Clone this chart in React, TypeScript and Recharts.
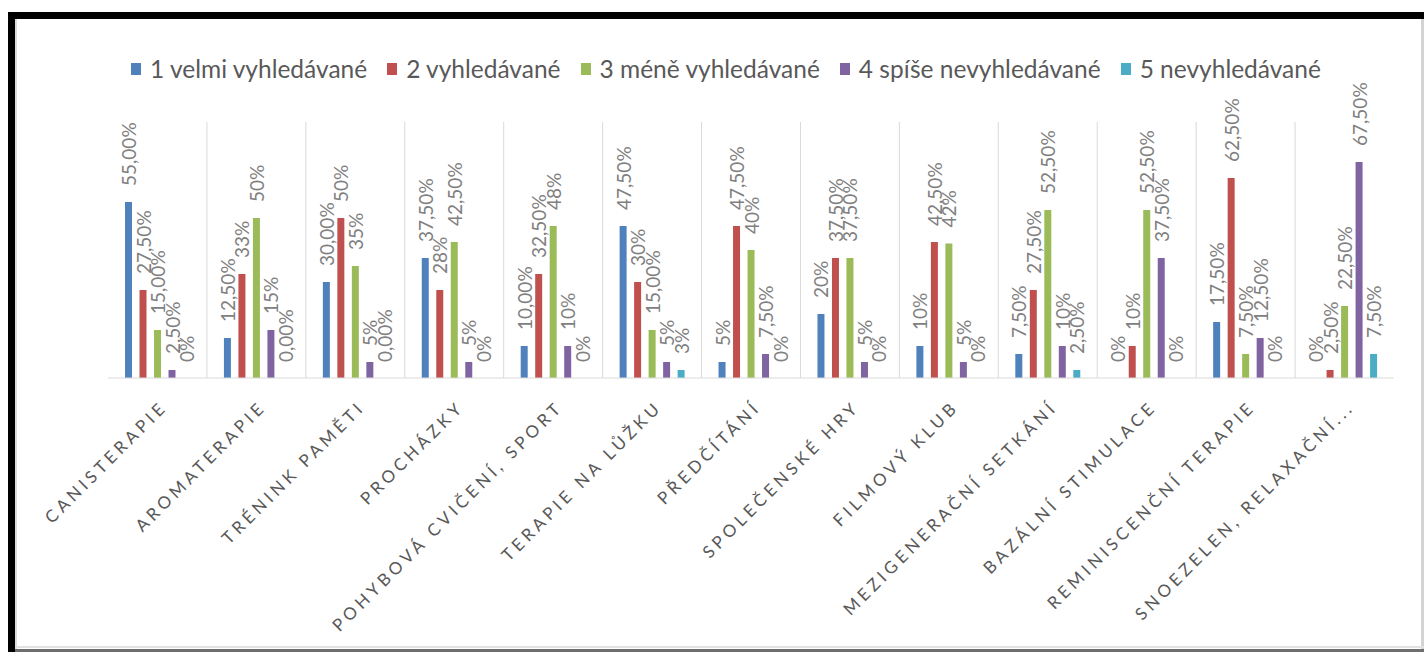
import React from "react";
import { Bar, BarChart, CartesianGrid, LabelList, XAxis, YAxis } from "recharts";

const categories = [
  "CANISTERAPIE",
  "AROMATERAPIE",
  "TRÉNINK PAMĚTI",
  "PROCHÁZKY",
  "POHYBOVÁ CVIČENÍ, SPORT",
  "TERAPIE NA LŮŽKU",
  "PŘEDČÍTÁNÍ",
  "SPOLEČENSKÉ HRY",
  "FILMOVÝ KLUB",
  "MEZIGENERAČNÍ SETKÁNÍ",
  "BAZÁLNÍ STIMULACE",
  "REMINISCENČNÍ TERAPIE",
  "SNOEZELEN, RELAXAČNÍ...",
];

const velmi = [55, 12.5, 30, 37.5, 10, 47.5, 5, 20, 10, 7.5, 0, 17.5, 0];
const vyhl = [27.5, 32.5, 50, 27.5, 32.5, 30, 47.5, 37.5, 42.5, 27.5, 10, 62.5, 2.5];
const mene = [15, 50, 35, 42.5, 47.5, 15, 40, 37.5, 42, 52.5, 52.5, 7.5, 22.5];
const spise = [2.5, 15, 5, 5, 10, 5, 7.5, 5, 5, 10, 37.5, 12.5, 67.5];
const nevyhl = [0, 0, 0, 0, 0, 2.5, 0, 0, 0, 2.5, 0, 0, 7.5];

// data label texts exactly as printed (formats differ per point)
const velmiLabels = ["55,00%", "12,50%", "30,00%", "37,50%", "10,00%", "47,50%", "5%", "20%", "10%", "7,50%", "0%", "17,50%", "0%"];
const vyhlLabels = ["27,50%", "33%", "50%", "28%", "32,50%", "30%", "47,50%", "37,50%", "42,50%", "27,50%", "10%", "62,50%", "2,50%"];
const meneLabels = ["15,00%", "50%", "35%", "42,50%", "48%", "15,00%", "40%", "37,50%", "42%", "52,50%", "52,50%", "7,50%", "22,50%"];
const spiseLabels = ["2,50%", "15%", "5%", "5%", "10%", "5%", "7,50%", "5%", "5%", "10%", "37,50%", "12,50%", "67,50%"];
const nevyhlLabels = ["0%", "0,00%", "0,00%", "0%", "0%", "3%", "0%", "0%", "0%", "2,50%", "0%", "0%", "7,50%"];

const series = [
  { key: "s1", name: "1 velmi vyhledávané", color: "#4F81BD", values: velmi, labels: velmiLabels },
  { key: "s2", name: "2 vyhledávané", color: "#C0504D", values: vyhl, labels: vyhlLabels },
  { key: "s3", name: "3 méně vyhledávané", color: "#9BBB59", values: mene, labels: meneLabels },
  { key: "s4", name: "4 spíše nevyhledávané", color: "#8064A2", values: spise, labels: spiseLabels },
  { key: "s5", name: "5 nevyhledávané", color: "#4BACC6", values: nevyhl, labels: nevyhlLabels },
];

const data = categories.map((name, i) => {
  const row: Record<string, string | number> = { name };
  series.forEach((s) => {
    row[s.key] = s.values[i];
    row[s.key + "L"] = s.labels[i];
  });
  return row;
});

const FONT = "Lato, 'Open Sans', sans-serif";

const renderLabel = (props: any) => {
  const { x, y, width, value } = props;
  const cx = Number(x) + Number(width) / 2;
  const ty = Number(y) - 16;
  return (
    <text
      transform={`translate(${cx},${ty}) rotate(-90)`}
      textAnchor="start"
      dominantBaseline="central"
      fontSize={19}
      fontFamily={FONT}
      fill="#808080"
    >
      {value}
    </text>
  );
};

function CategoryTick(props: any) {
  const { x, y, payload } = props;
  return (
    <text
      transform={`translate(${x + 11},${y + 22}) rotate(-45)`}
      textAnchor="end"
      fontSize={17}
      letterSpacing={4}
      fontFamily={FONT}
      fill="#595959"
    >
      {payload.value}
    </text>
  );
}

export default function App() {
  return (
    <div style={{ position: "absolute", left: 0, top: 0, width: 1424, height: 652, background: "#fff", overflow: "hidden" }}>
      {/* frame */}
      <div style={{ position: "absolute", left: 8, top: 12, width: 1416, height: 7, background: "#000" }} />
      <div style={{ position: "absolute", left: 8, top: 12, width: 7, height: 640, background: "#000" }} />
      <div style={{ position: "absolute", left: 15, top: 19, width: 2, height: 633, background: "#dcdcdc" }} />
      <div style={{ position: "absolute", left: 1421, top: 19, width: 3, height: 633, background: "#d4d4d4" }} />
      <div style={{ position: "absolute", left: 15, top: 646, width: 1409, height: 2, background: "#e2e2e2" }} />
      <div style={{ position: "absolute", left: 15, top: 649, width: 1409, height: 3, background: "#6e6e6e" }} />

      {/* legend */}
      <div
        style={{
          position: "absolute",
          left: 14,
          top: 54,
          width: 1424,
          display: "flex",
          justifyContent: "center",
          alignItems: "center",
          fontFamily: FONT,
          fontSize: 24.5,
          color: "#595959",
          whiteSpace: "nowrap",
        }}
      >
        {series.map((s) => (
          <div key={s.key} style={{ display: "flex", alignItems: "center", margin: "0 10px" }}>
            <span style={{ display: "inline-block", width: 10, height: 12, background: s.color, marginRight: 9 }} />
            {s.name}
          </div>
        ))}
      </div>

      <div style={{ position: "absolute", left: 0, top: 0 }}>
        <BarChart
          width={1424}
          height={652}
          data={data}
          margin={{ top: 122, right: 30, left: 108, bottom: 0 }}
          barSize={7}
          barGap={7.5}
        >
          <CartesianGrid
            horizontal={false}
            stroke="#d9d9d9"
            verticalCoordinatesGenerator={({ offset }: any) =>
              categories.slice(1).map((_, i) => offset.left + ((i + 1) * offset.width) / categories.length)
            }
          />
          <XAxis
            dataKey="name"
            interval={0}
            tickLine={false}
            axisLine={{ stroke: "#d9d9d9" }}
            height={274}
            tick={<CategoryTick />}
          />
          <YAxis hide domain={[0, 80]} />
          {series.map((s) => (
            <Bar
              key={s.key}
              dataKey={s.key}
              name={s.name}
              fill={s.color}
              minPointSize={0.01}
              isAnimationActive={false}
            >
              <LabelList dataKey={s.key + "L"} content={renderLabel} />
            </Bar>
          ))}
        </BarChart>
      </div>
    </div>
  );
}
